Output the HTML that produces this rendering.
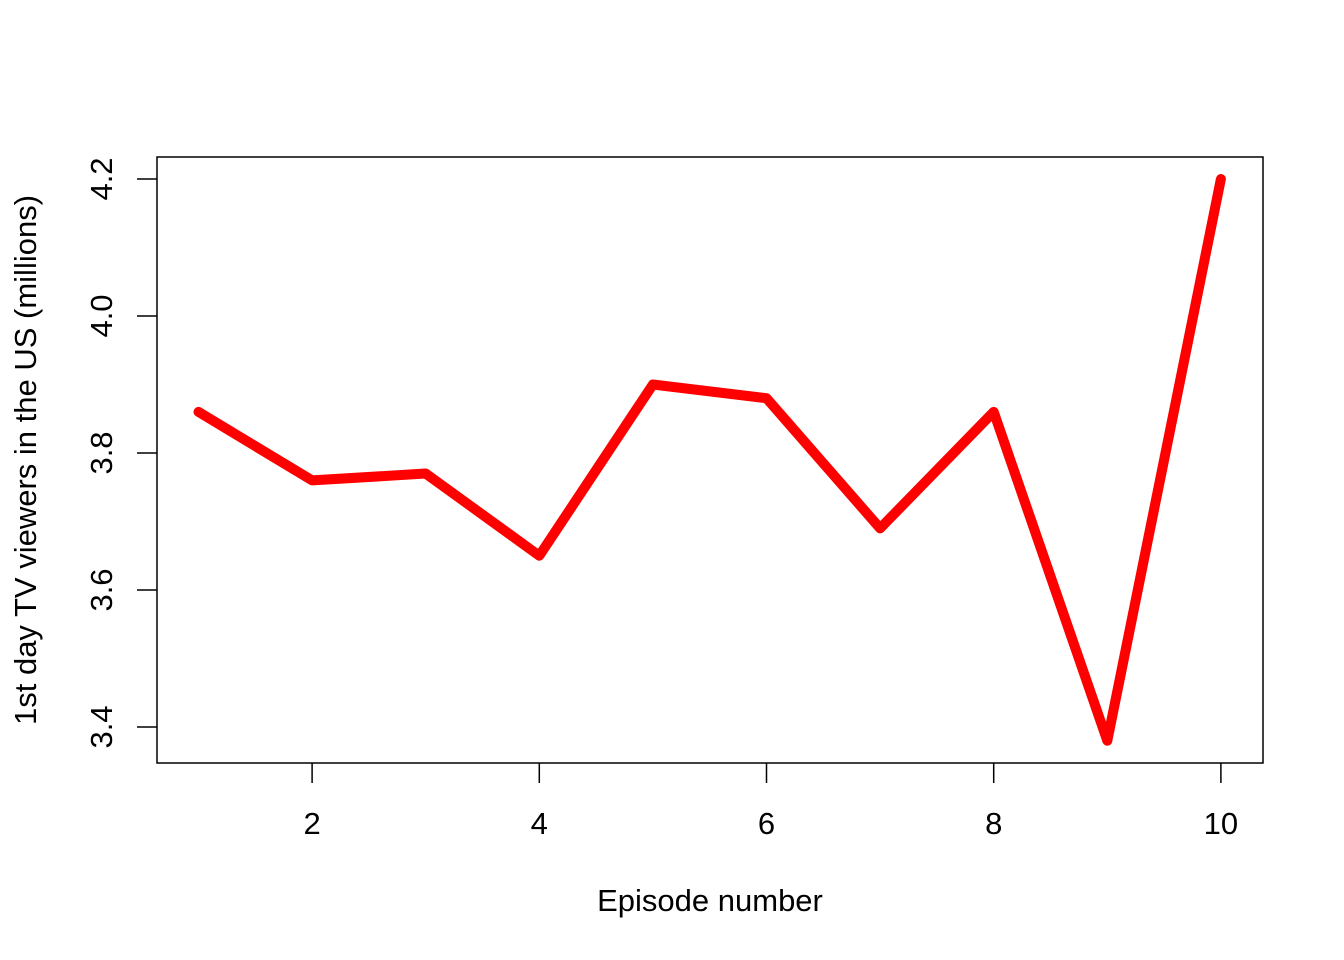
<!DOCTYPE html>
<html><head><meta charset="utf-8"><style>
html,body{margin:0;padding:0;background:#fff;}
svg{display:block;font-family:"Liberation Sans",Arial,sans-serif;}
</style></head><body>
<svg id="chart" width="1344" height="960" viewBox="0 0 1344 960">
<rect x="157" y="157" width="1106" height="606" fill="none" stroke="#000" stroke-width="1.5"/>
<g id="xaxis"></g>
<g id="yaxis"></g>
<text x="710" y="911" font-size="31" text-anchor="middle">Episode number</text>
<text transform="translate(36,460) rotate(-90)" font-size="31" text-anchor="middle">1st day TV viewers in the US (millions)</text>
<g id="series"></g>
</svg>
<script>
const episodes=[1,2,3,4,5,6,7,8,9,10];
const viewers=[3.86,3.76,3.77,3.65,3.90,3.88,3.69,3.86,3.38,4.20];
const xTicks=[2,4,6,8,10];
const yTicks=[3.4,3.6,3.8,4.0,4.2];
const yTickLabels=["3.4","3.6","3.8","4.0","4.2"];
const NS="http://www.w3.org/2000/svg";
function sx(v){return 198.5+(v-1)*113.6;}
function sy(v){return 179+(4.2-v)*685;}
function mk(tag,attrs,parent){const e=document.createElementNS(NS,tag);for(const k in attrs)e.setAttribute(k,attrs[k]);parent.appendChild(e);return e;}
const xa=document.getElementById('xaxis'),ya=document.getElementById('yaxis'),se=document.getElementById('series');
xTicks.forEach(t=>{
 const l=mk('line',{x1:sx(t),x2:sx(t),y1:763,y2:783,stroke:'#000','stroke-width':1.5},xa);
 
 
 const tx=mk('text',{x:sx(t),y:834,'font-size':31,'text-anchor':'middle'},xa);
 tx.textContent=t;
 
 
});
yTicks.forEach((t,i)=>{
 const l=mk('line',{x1:137,x2:157,y1:sy(t),y2:sy(t),stroke:'#000','stroke-width':1.5},ya);
 
 
 const tx=mk('text',{transform:`translate(112,${sy(t)}) rotate(-90)`,'font-size':31,'text-anchor':'middle'},ya);
 tx.textContent=yTickLabels[i];
 
 
});
const pts=episodes.map((e,i)=>sx(e)+','+sy(viewers[i])).join(' ');
const pl=mk('polyline',{points:pts,fill:'none',stroke:'#ff0000','stroke-width':10,'stroke-linejoin':'round','stroke-linecap':'round'},se);


</script>
</body></html>
